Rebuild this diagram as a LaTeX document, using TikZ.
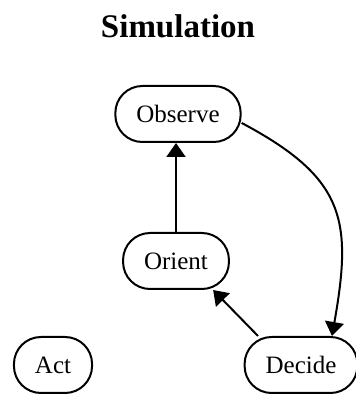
\documentclass[tikz,border=0pt]{standalone}
\usepackage{fontspec}
\setmainfont{Liberation Serif}
\usetikzlibrary{arrows.meta}

\begin{document}
\begin{tikzpicture}[x=1pt, y=1pt,
    state/.style={draw, line width=2pt, rounded corners=27pt, minimum height=56pt,
      inner xsep=21pt, font=\fontsize{25}{30}\selectfont},
    flow/.style={line width=2pt, -{Triangle[length=14pt, width=19pt]}}]
  \useasboundingbox (0,0) rectangle (356,399);

  \node[font=\fontsize{33}{40}\selectfont\bfseries] (title) at (178,373) {Simulation};

  \node[state] (observe) at (178,285) {Observe};
  \node[state] (orient) at (176,138) {Orient};
  \node[state] (act) at (53,34) {Act};
  \node[state] (decide) at (301,34) {Decide};

  \draw[flow] (orient.north) -- (orient.north |- observe.south);
  \draw[flow] (decide.146) -- (orient.-38);
  \draw[flow] (observe.-8) to[out=-28, in=80, looseness=1.3] ([xshift=31pt]decide.north);
\end{tikzpicture}
\end{document}
